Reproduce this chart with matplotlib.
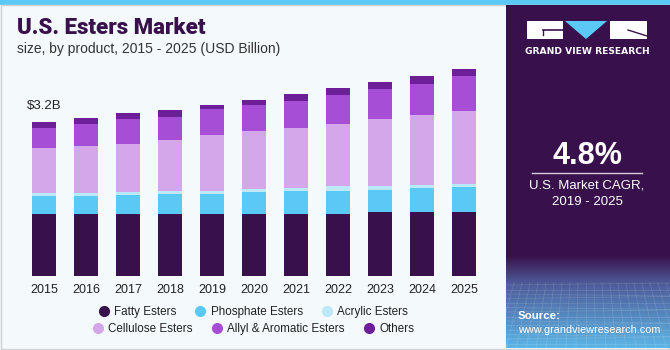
import matplotlib
matplotlib.use("Agg")
import matplotlib.pyplot as plt
import numpy as np
from matplotlib.patches import Rectangle, Polygon
from matplotlib.lines import Line2D

years = ["2015", "2016", "2017", "2018", "2019", "2020", "2021", "2022", "2023", "2024", "2025"]
fatty = [1.29, 1.29, 1.29, 1.29, 1.29, 1.29, 1.29, 1.29, 1.33, 1.33, 1.33]
phosphate = [0.375, 0.375, 0.39, 0.42, 0.42, 0.46, 0.49, 0.485, 0.47, 0.51, 0.53]
acrylic = [0.056, 0.056, 0.062, 0.056, 0.07, 0.07, 0.062, 0.09, 0.07, 0.056, 0.056]
cellulose = [0.94, 0.98, 1.01, 1.06, 1.15, 1.20, 1.24, 1.30, 1.39, 1.46, 1.52]
allyl = [0.41, 0.47, 0.51, 0.49, 0.54, 0.55, 0.57, 0.60, 0.625, 0.64, 0.72]
others = [0.125, 0.11, 0.14, 0.146, 0.09, 0.09, 0.146, 0.14, 0.154, 0.167, 0.146]

series_names = ["Fatty Esters", "Phosphate Esters", "Acrylic Esters",
                "Cellulose Esters", "Allyl & Aromatic Esters", "Others"]
series = [fatty, phosphate, acrylic, cellulose, allyl, others]
colors = ["#38114c", "#5bc9f6", "#bde8f8", "#d4a6ea", "#a64fd6", "#6c1f98"]

W, H = 670, 350
fig = plt.figure(figsize=(W / 100, H / 100), dpi=100)
fig.patch.set_facecolor("#f4f9fc")

# overlay axes in pixel coordinates
ov = fig.add_axes([0, 0, 1, 1])
ov.set_xlim(0, W)
ov.set_ylim(H, 0)
ov.axis("off")
ov.set_zorder(0)

# top cyan band
ov.add_patch(Rectangle((0, 0), W, 4.5, color="#5bc9f6", lw=0))
# outer border
ov.add_patch(Rectangle((0.5, 4.5), W - 1.5, H - 6, fill=False, ec="#cfd3d6", lw=1))

# right panel
px0 = 506
ov.add_patch(Rectangle((px0, 4.5), W - px0, 343.5, color="#38114c", lw=0))
# bottom gradient
n = 100
c0 = np.array([0x38, 0x11, 0x4c]) / 255
c1 = np.array([0x4e, 0x5a, 0x98]) / 255
c2 = np.array([0x5c, 0xb6, 0xe6]) / 255
img = np.zeros((n, 1, 3))
for i in range(n):
    g = i / (n - 1)
    if g < 0.3:
        t = g / 0.3
        img[i, 0] = c0 * (1 - t) + c1 * t
    else:
        t = (g - 0.3) / 0.7
        img[i, 0] = c1 * (1 - t) + c2 * t
ov.imshow(img, extent=(px0, W, 348, 255), aspect="auto", zorder=1)
# faint grid pattern
for k in range(14):
    yy = 285 + k * 4.5
    ov.plot([px0, W], [yy, yy + (k % 3 - 1) * 2], color="white", alpha=0.12, lw=0.6, zorder=2)
for k in range(22):
    xx = px0 + k * 8
    ov.plot([xx, xx - 20 + k * 2], [283, 348], color="white", alpha=0.12, lw=0.6, zorder=2)

# logo
ov.add_patch(Rectangle((527, 21), 36, 18, color="white", lw=0, zorder=3))
ov.plot([543, 563], [30, 30], color="#38114c", lw=1.2, zorder=4)
ov.plot([543, 543], [30, 35], color="#38114c", lw=1.0, zorder=4)
ov.add_patch(Polygon([[565, 21], [607, 21], [586, 39]], closed=True, color="#5bc9f6", lw=0, zorder=3))
ov.add_patch(Rectangle((610, 21), 37, 18, color="white", lw=0, zorder=3))
ov.plot([628, 647], [30, 36], color="#38114c", lw=1.0, zorder=4)
ov.text(587, 52, "GRAND VIEW RESEARCH", color="white", fontsize=6.6, fontweight="bold",
        ha="center", va="center", family="DejaVu Sans", zorder=5)

# CAGR
ov.text(587, 156, "4.8%", color="white", fontsize=22, fontweight="bold",
        ha="center", va="center", family="Liberation Sans", zorder=5)
ov.plot([532, 642], [173, 173], color="#d8cce0", lw=1, zorder=5)
ov.text(587, 186, "U.S. Market CAGR,", color="white", fontsize=9.5,
        ha="center", va="center", family="Liberation Sans", zorder=5)
ov.text(587, 202, "2019 - 2025", color="white", fontsize=9.5,
        ha="center", va="center", family="Liberation Sans", zorder=5)
ov.text(518, 316, "Source:", color="white", fontsize=8.2, fontweight="bold",
        ha="left", va="center", family="Liberation Sans", zorder=5)
ov.text(518, 330, "www.grandviewresearch.com", color="white", fontsize=7.8,
        ha="left", va="center", family="Liberation Sans", zorder=5)

# titles
ov.text(17, 28, "U.S. Esters Market", color="#38114c", fontsize=16, fontweight="black",
        ha="left", va="center", family="Roboto", zorder=5)
ov.text(17, 49, "size, by product, 2015 - 2025 (USD Billion)", color="#333333", fontsize=10,
        ha="left", va="center", family="Liberation Sans", zorder=5)

# chart axes
ymax = 4.6
ax = fig.add_axes([23 / W, 74 / H, 462 / W, ymax * 48.03 / H])
ax.set_zorder(2)
ax.patch.set_alpha(0)
x = np.arange(len(years))
bottom = np.zeros(len(years))
for name, vals, col in zip(series_names, series, colors):
    ax.bar(x, vals, bottom=bottom, width=0.57, color=col, label=name, lw=0)
    bottom += np.array(vals)
ax.set_xlim(-0.5, len(years) - 0.5)
ax.set_ylim(0, ymax)
ax.set_xticks(x)
ax.set_xticklabels(years, fontsize=9, color="#222222", family="Liberation Sans")
ax.tick_params(axis="x", length=0, pad=6)
ax.set_yticks([])
for s in ax.spines.values():
    s.set_visible(False)
ax.text(0, bottom[0] + 0.22, "$3.2B", ha="center", va="bottom", fontsize=9.5,
        color="#222222", family="Liberation Sans")

# legends (two centered rows)
handles = [Line2D([], [], marker="o", ls="", color=c, markersize=7) for c in colors]
kw = dict(loc="center", ncol=3, frameon=False, handlelength=1.0, handletextpad=0.4,
          columnspacing=1.55, borderaxespad=0, borderpad=0,
          prop={"family": "Liberation Sans", "size": 8.4})
leg1 = fig.legend(handles[:3], series_names[:3], bbox_to_anchor=(253 / W, 1 - 312 / H), **kw)
leg2 = fig.legend(handles[3:], series_names[3:], bbox_to_anchor=(253 / W, 1 - 329 / H), **kw)
for lg in (leg1, leg2):
    for t in lg.get_texts():
        t.set_color("#222222")

fig.savefig("out.png", dpi=100, facecolor=fig.get_facecolor())
